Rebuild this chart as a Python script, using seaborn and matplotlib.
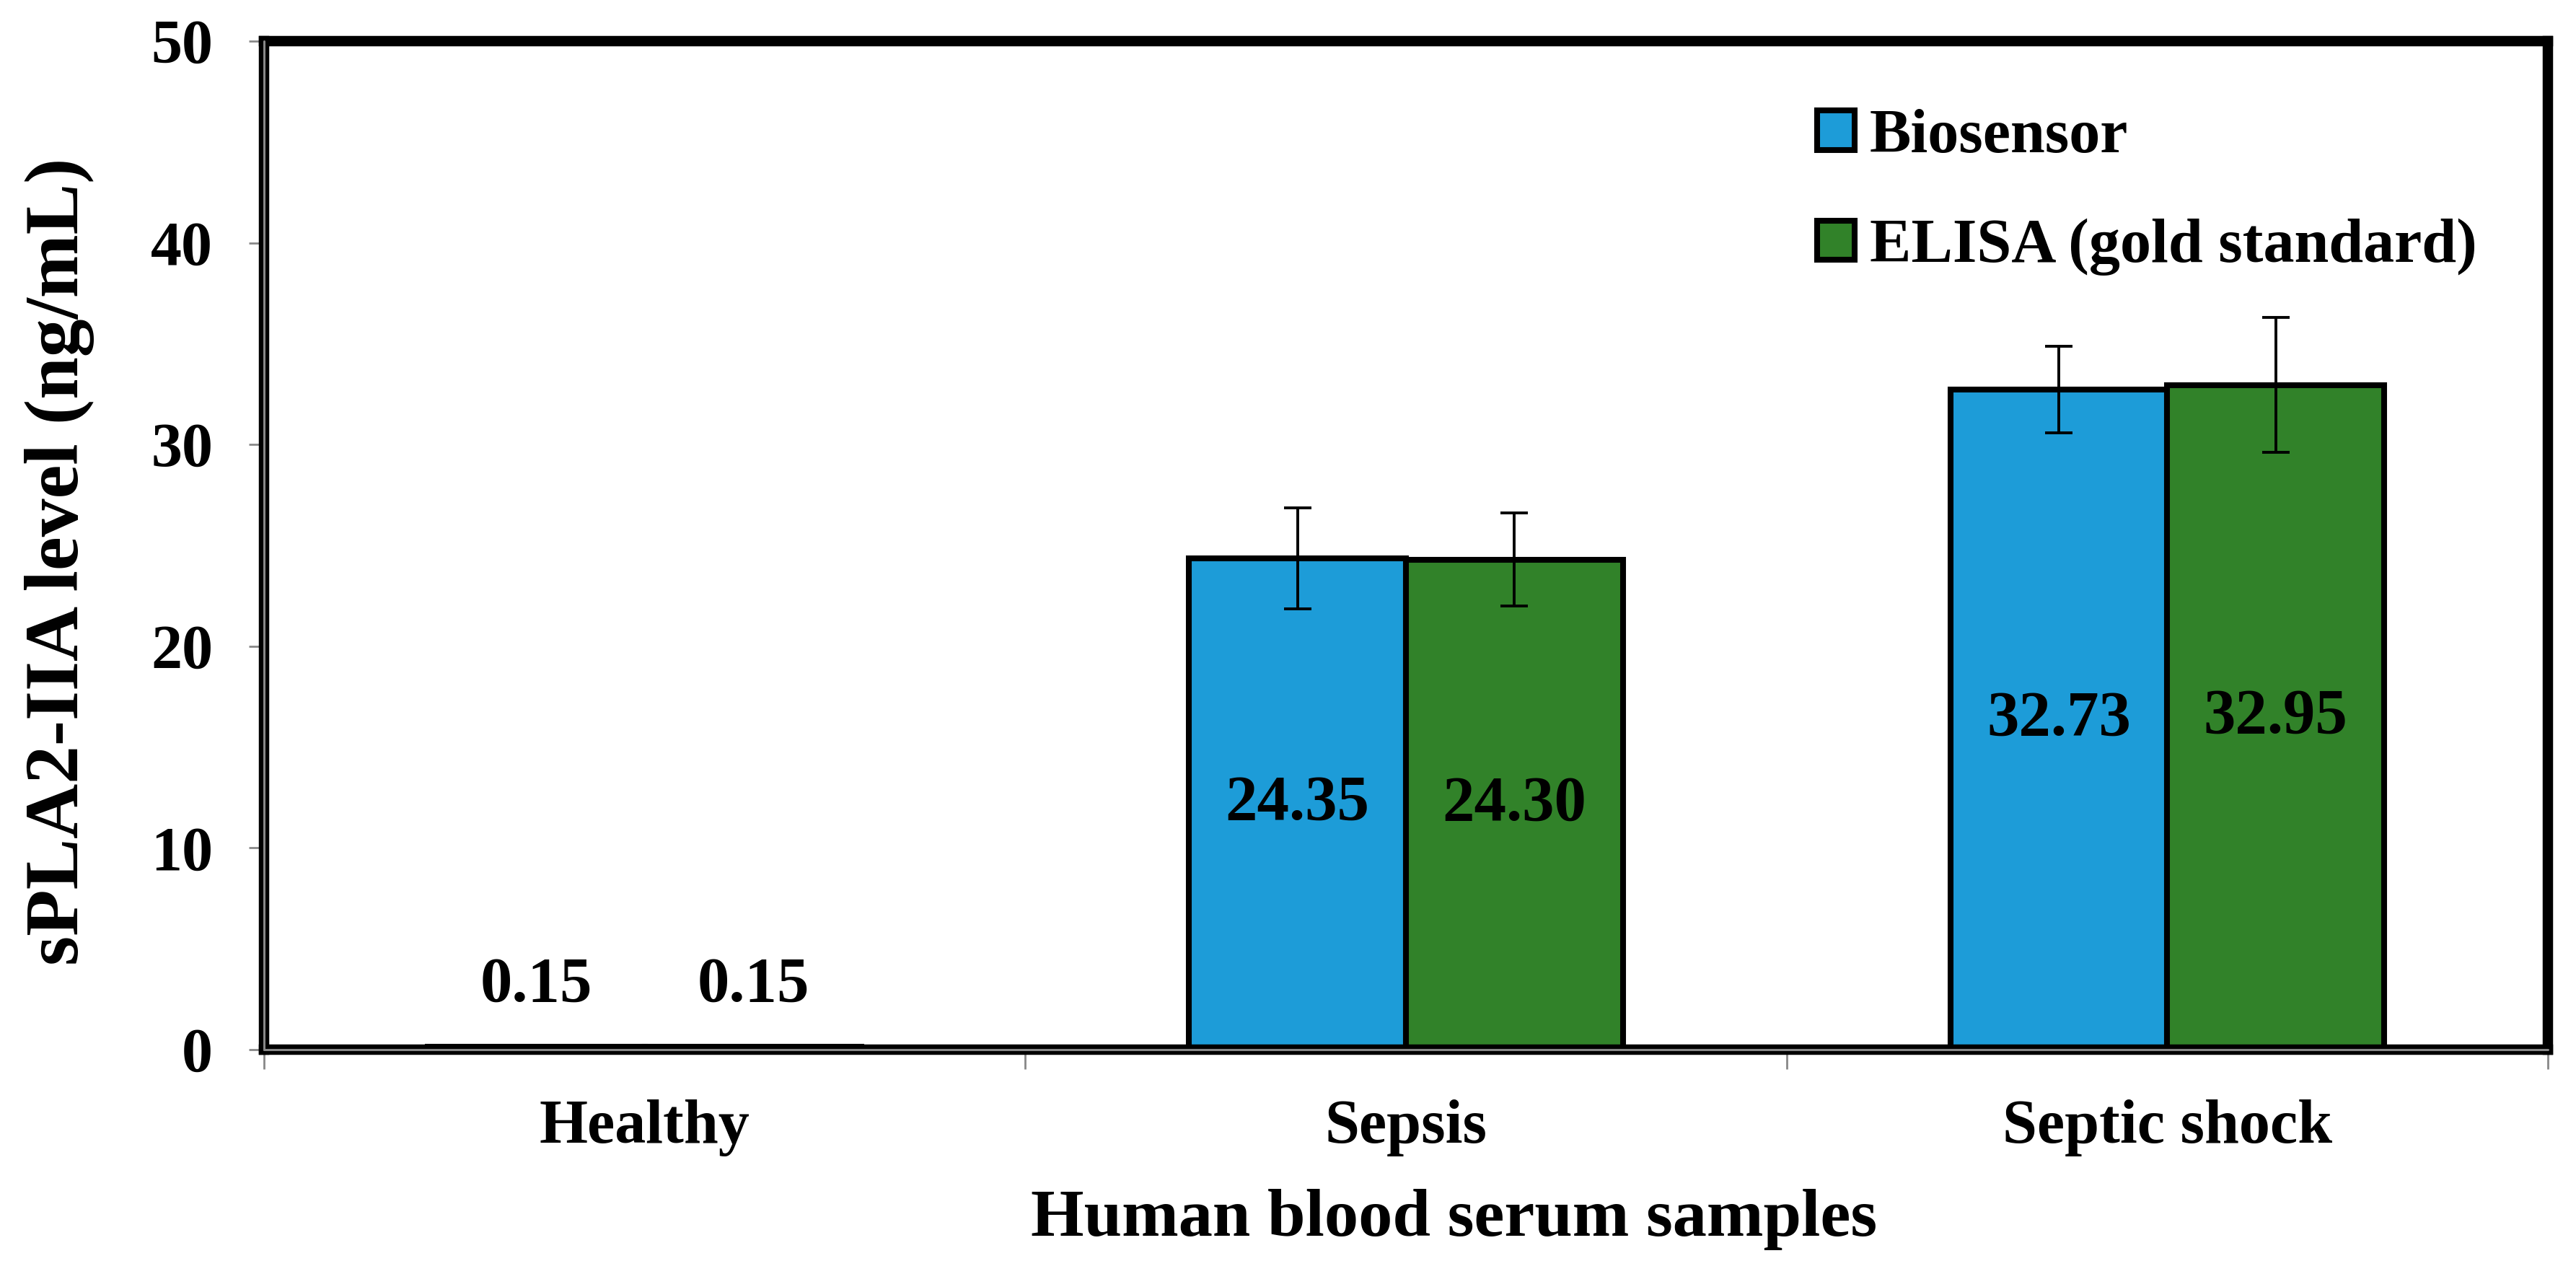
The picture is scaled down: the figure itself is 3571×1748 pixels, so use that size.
import numpy as np
import pandas as pd
import matplotlib
matplotlib.use("Agg")
import matplotlib.pyplot as plt
from matplotlib.ticker import FixedLocator
import seaborn as sns

# ---- data ----
categories = ["Healthy", "Sepsis", "Septic shock"]
series = ["Biosensor", "ELISA (gold standard)"]
biosensor = [0.15, 24.35, 32.73]
elisa = [0.15, 24.30, 32.95]
biosensor_err = [np.nan, 2.5, 2.15]
elisa_err = [np.nan, 2.3, 3.35]
biosensor_labels = ["0.15", "24.35", "32.73"]
elisa_labels = ["0.15", "24.30", "32.95"]
yticks = [0, 10, 20, 30, 40, 50]

df = pd.DataFrame({
    "Sample": categories * 2,
    "Value": biosensor + elisa,
    "Method": [series[0]] * 3 + [series[1]] * 3,
})

sns.set_theme(style="white")
plt.rcParams["font.family"] = ["Liberation Serif", "DejaVu Serif"]
plt.rcParams["font.weight"] = "bold"
plt.rcParams["text.color"] = "black"
plt.rcParams["axes.labelcolor"] = "black"
plt.rcParams["xtick.labelcolor"] = "black"
plt.rcParams["ytick.labelcolor"] = "black"

W, H, DPI = 3571, 1748, 200
fig = plt.figure(figsize=(W / DPI, H / DPI), dpi=DPI)
ax = fig.add_axes([366 / W, 1 - 1455 / H, (3532 - 366) / W, (1455 - 57) / H])

blue = "#1d9cd8"
green = "#318229"

sns.barplot(data=df, x="Sample", y="Value", hue="Method", order=categories,
            hue_order=series, palette=[blue, green], width=0.57, saturation=1,
            edgecolor="black", linewidth=2.9, errorbar=None, ax=ax)

# error bars and value labels
for cont, errs, labs, vals in zip(ax.containers, [biosensor_err, elisa_err],
                                  [biosensor_labels, elisa_labels], [biosensor, elisa]):
    for patch, e in zip(cont.patches, errs):
        if not np.isnan(e):
            ax.errorbar(patch.get_x() + patch.get_width() / 2, patch.get_height(),
                        yerr=e, color="black", lw=1.4, capsize=7, capthick=1.4,
                        zorder=5)
    ax.bar_label(cont, labels=[l if v >= 1 else "" for l, v in zip(labs, vals)],
                 label_type="center", fontsize=32, fontweight="bold", color="black")
    ax.bar_label(cont, labels=[l if v < 1 else "" for l, v in zip(labs, vals)],
                 label_type="edge", padding=16, fontsize=32, fontweight="bold",
                 color="black")

ax.set_ylim(0, 50)
ax.set_yticks(yticks)
ax.set_xlim(-0.5, len(categories) - 0.5)
ax.xaxis.set_minor_locator(FixedLocator(np.arange(-0.5, len(categories), 1.0)))

ax.tick_params(axis="x", which="major", length=0, pad=25, labelsize=31, bottom=True,
               labelcolor="black")
ax.tick_params(axis="x", which="minor", length=9.7, width=1, color="#888888",
               direction="out", bottom=True)
ax.tick_params(axis="y", which="major", length=7.5, width=1, color="#888888",
               direction="out", pad=18, labelsize=31, left=True, labelcolor="black")
for lab in ax.get_xticklabels() + ax.get_yticklabels():
    lab.set_fontweight("bold")

for sp in ax.spines.values():
    sp.set_visible(True)
    sp.set_color("black")
    sp.set_linewidth(5.2)

ax.axhline(0, color="#888888", lw=1.1, zorder=6, clip_on=False)
ax.axvline(ax.get_xlim()[0], color="#888888", lw=1.1, zorder=6, clip_on=False)

ax.set_xlabel("Human blood serum samples", fontsize=34, fontweight="bold",
              labelpad=16, x=0.521, color="black")
ax.set_ylabel("sPLA2-IIA level (ng/mL)", fontsize=38, fontweight="bold",
              labelpad=28, y=0.484, color="black")

sns.move_legend(ax, "upper left", bbox_to_anchor=(0.680, 0.933), title=None,
                frameon=False, fontsize=31, handlelength=0.6, handleheight=0.6,
                handletextpad=0.25, labelspacing=0.85, borderpad=0, borderaxespad=0)
leg = ax.get_legend()
for h in leg.legend_handles:
    h.set_edgecolor("black")
    h.set_linewidth(2.9)
for t in leg.get_texts():
    t.set_fontweight("bold")
    t.set_color("black")

fig.savefig("out.png", dpi=DPI)
